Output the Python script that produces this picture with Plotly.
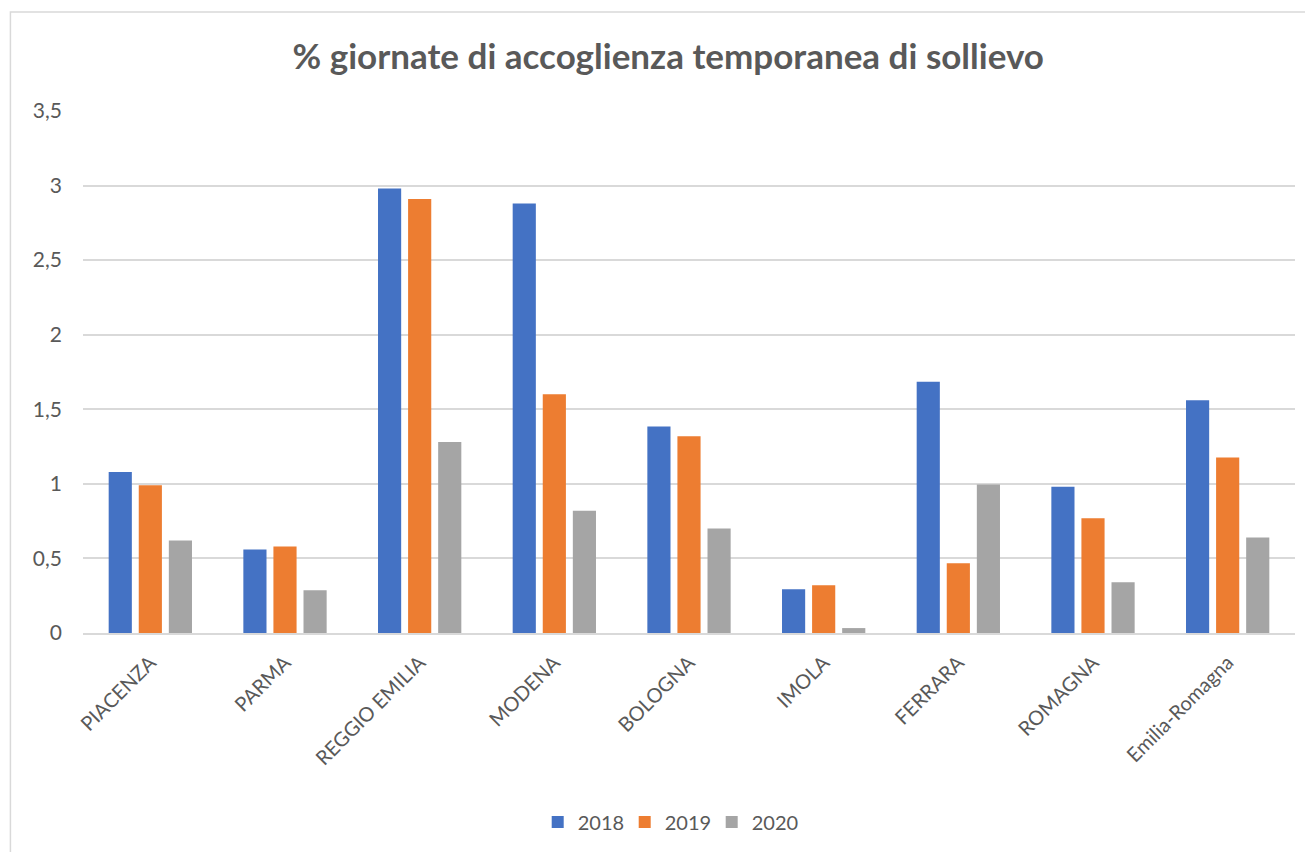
import plotly.graph_objects as go

categories = ["PIACENZA", "PARMA", "REGGIO EMILIA", "MODENA", "BOLOGNA", "IMOLA", "FERRARA", "ROMAGNA", "Emilia-Romagna"]
v2018 = [1.08, 0.56, 2.98, 2.88, 1.385, 0.293, 1.685, 0.98, 1.56]
v2019 = [0.99, 0.58, 2.91, 1.60, 1.32, 0.32, 0.467, 0.77, 1.176]
v2020 = [0.62, 0.286, 1.28, 0.82, 0.70, 0.033, 0.995, 0.34, 0.64]
series_names = ["2018", "2019", "2020"]
colors = ["#4472C4", "#ED7D31", "#A5A5A5"]
yticks = [0, 0.5, 1, 1.5, 2, 2.5, 3, 3.5]

fig = go.Figure()
for name, vals, col in zip(series_names, [v2018, v2019, v2020], colors):
    fig.add_trace(go.Bar(x=categories, y=vals, name=name, marker=dict(color=col, line=dict(width=0))))

OFF = 8  # page body margin
W, H = 1313 - OFF, 852 - OFF
ml, mt = 82.6 - OFF, 111 - OFF
mr, mb = 18, 852 - 633
pw, ph = W - ml - mr, H - mt - mb

def px(x):
    return (x - OFF - ml) / pw

def py(y):
    return (H - mb - (y - OFF)) / ph

fig.update_layout(
    width=W, height=H,
    margin=dict(l=ml, r=mr, t=mt, b=mb, autoexpand=False),
    paper_bgcolor="white", plot_bgcolor="white",
    separators=",.",
    barmode="group", bargap=0.33, bargroupgap=0.23,
    font=dict(family="Lato, Open Sans, sans-serif", color="#595959"),
    title=dict(text="<b>% giornate di accoglienza temporanea di sollievo</b>",
               x=px(668), xref="paper", xanchor="center", y=1 - (57 - OFF) / H, yanchor="middle",
               font=dict(size=35, color="#595959")),
    xaxis=dict(tickangle=-45, tickfont=dict(size=20, color="#595959"),
               showline=True, linecolor="#d9d9d9", linewidth=2, ticks="", showgrid=False,
               ticklabelstandoff=8),
    yaxis=dict(range=[0, 3.5], tickvals=yticks, tickfont=dict(size=21, color="#595959"),
               showgrid=True, gridcolor="#d9d9d9", gridwidth=1.5, zeroline=False,
               showline=False, ticks="", ticklabelstandoff=20),
    legend=dict(orientation="h", x=px(668), xanchor="center", y=py(822), yanchor="middle",
                font=dict(size=20, color="#595959"), itemwidth=30, traceorder="normal",
                entrywidth=42, entrywidthmode="pixels"),
    shapes=[dict(type="rect", xref="paper", yref="paper", x0=px(10), x1=px(1330),
                 y0=py(880), y1=py(12), line=dict(color="#d9d9d9", width=1.5),
                 fillcolor="rgba(0,0,0,0)", layer="below")],
)

fig.write_html("out.html")
